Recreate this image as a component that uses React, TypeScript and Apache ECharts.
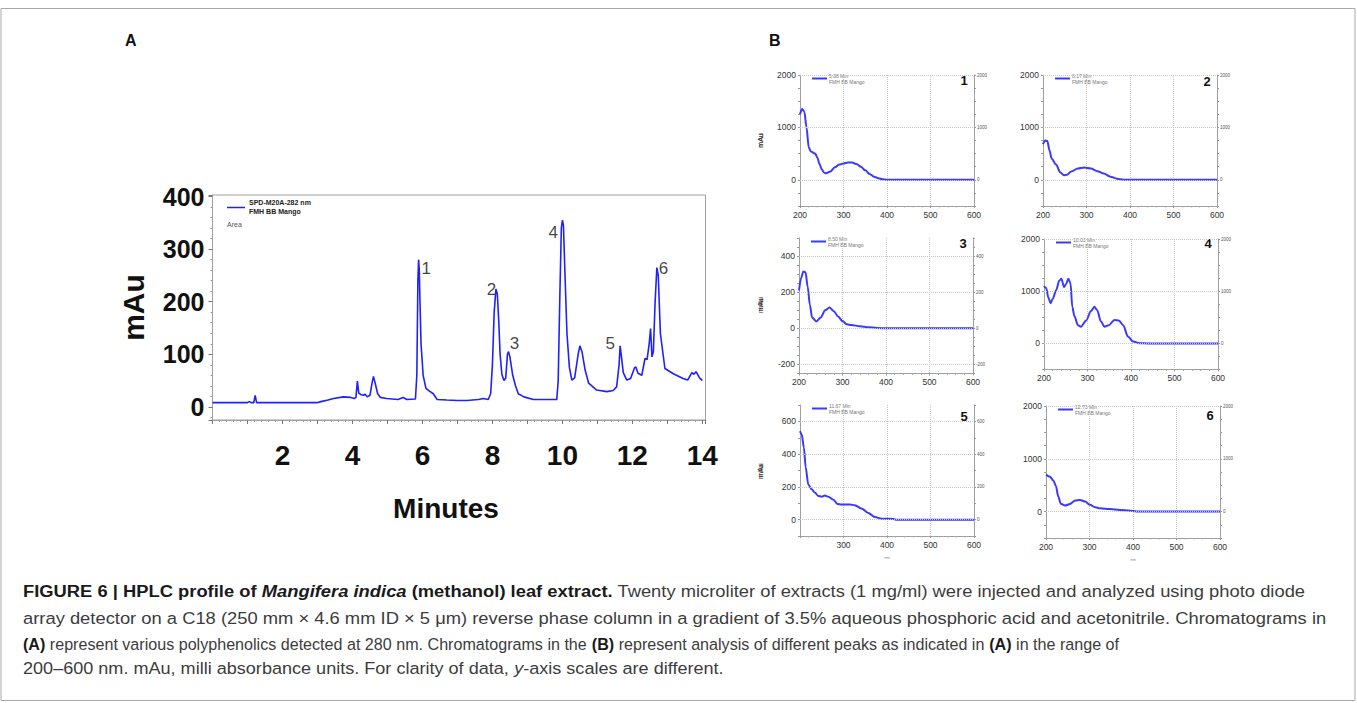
import React, { useEffect, useRef } from 'react';
import * as echarts from 'echarts';

// ---------- Panel A: HPLC chromatogram (280 nm) ----------
const chromTime = [0,1.00,1.05,1.10,1.18,1.22,1.26,1.50,2.00,2.98,
  3.10,3.30,3.46,3.74,3.95,4.05,4.10,4.14,4.18,4.25,
  4.31,4.36,4.42,4.50,4.56,4.60,4.65,4.72,4.80,4.98,
  5.30,5.45,5.55,5.80,5.84,5.87,5.89,5.91,5.93,5.96,
  6.02,6.10,6.20,6.31,6.42,6.70,7.00,7.27,7.60,7.74,
  7.88,7.95,8.00,8.05,8.10,8.14,8.18,8.22,8.27,8.33,
  8.38,8.43,8.46,8.50,8.58,8.66,8.74,8.90,9.17,9.50,
  9.84,9.88,9.93,9.97,10.00,10.03,10.07,10.13,10.20,10.27,
  10.35,10.45,10.50,10.56,10.65,10.75,10.98,11.27,11.45,11.55,
  11.62,11.65,11.68,11.74,11.84,11.95,12.06,12.10,12.16,12.27,
  12.36,12.42,12.48,12.52,12.56,12.60,12.65,12.70,12.74,12.80,
  12.93,13.17,13.45,13.58,13.70,13.76,13.82,13.92,14.00];
const chromMAu = [8,8,10,8,8,22,8,8,8,8,
  10,13,16,19,18,16,18,49,26,23,
  22,24,19,22,45,58,45,25,18,16,
  14,18,14,15,60,240,280,260,200,120,
  60,35,30,25,14,13,12,12,14,16,
  14,25,80,180,224,215,165,100,62,50,
  55,100,105,95,60,40,25,19,14,14,
  14,50,220,340,355,345,260,140,75,51,
  55,100,116,105,70,45,32,29,31,38,
  80,116,100,65,51,54,74,76,64,60,
  92,90,120,149,95,105,200,265,250,140,
  73,63,54,51,65,62,67,55,50];
const peakLabelTime = [6.11, 7.97, 8.63, 9.74, 11.37, 12.89];
const peakLabelMAu = [263, 223, 120, 331, 120, 263];
const peakLabelText = ['1', '2', '3', '4', '5', '6'];
const xTicksA = [2, 4, 6, 8, 10, 12, 14];
const yTicksA = [0, 100, 200, 300, 400];

// ---------- Panel B: UV spectra of peaks 1-6 ----------
const spec1Wl = [200,205,210,215,220,225,235,240,245,250,255,260,270,280,290,300,310,320,330,340,350,360,370,380,390,400,410,450,500,550,600];
const spec1Abs = [1250,1350,1300,1000,620,540,500,420,300,200,140,125,160,240,290,310,330,330,300,250,180,110,60,30,10,3,0,0,0,0,0];
const spec2Wl = [200,205,210,215,220,230,240,248,255,265,280,295,310,325,340,355,370,385,400,450,500,550,600];
const spec2Abs = [680,750,740,560,400,290,140,85,95,160,215,235,215,165,120,60,20,3,0,0,0,0,0];
const spec3Wl = [200,205,210,215,220,225,230,240,250,260,270,280,290,300,310,320,340,360,380,400,450,500,550,600];
const spec3Abs = [210,280,315,310,230,130,60,38,60,100,115,95,65,40,22,18,12,6,2,0,0,0,0,0];
const spec4Wl = [200,205,210,215,220,228,235,240,246,251,256,261,265,270,278,285,297,308,316,322,331,339,349,362,372,382,393,405,420,440,500,550,600];
const spec4Abs = [1100,1060,880,770,850,1020,1200,1240,1080,1140,1240,1150,700,520,350,320,440,620,700,640,420,320,350,450,440,350,130,35,3,0,0,0,0];
const spec5Wl = [200,204,209,213,219,227,234,242,250,257,265,277,286,296,315,326,342,357,372,388,415,420,450,500,550,600];
const spec5Abs = [540,520,440,320,215,185,165,145,140,148,140,122,96,92,92,88,67,41,16,6,4,0,0,0,0,0];
const spec6Wl = [200,209,217,223,228,234,244,255,267,278,290,301,313,324,347,370,393,408,420,450,500,550,600];
const spec6Abs = [700,660,590,480,290,150,115,145,210,222,190,128,83,62,50,32,18,3,0,0,0,0,0];

const specTimes = ['5.88 Min', '8.17 Min', '8.50 Min', '10.03 Min', '11.67 Min', '12.73 Min'];
const specNumbers = ['1', '2', '3', '4', '5', '6'];
const specYTicks = [[0, 1000, 2000], [0, 1000, 2000], [-200, 0, 200, 400], [0, 1000, 2000], [0, 200, 400, 600], [0, 1000, 2000]];
const specYRange = [[-500, 2000, 250], [-500, 2000, 250], [-250, 500, 50], [-500, 2000, 250], [-100, 700, 100], [-500, 2000, 250]];
const specXTicks = [[200,300,400,500,600],[200,300,400,500,600],[200,300,400,500,600],[200,300,400,500,600],[300,400,500,600],[200,300,400,500,600]];
const specSeries = [[spec1Wl, spec1Abs], [spec2Wl, spec2Abs], [spec3Wl, spec3Abs], [spec4Wl, spec4Abs], [spec5Wl, spec5Abs], [spec6Wl, spec6Abs]];

// ---------- Caption ----------
const captionLines = [
  '{b|FIGURE 6 | HPLC profile of }{bi|Mangifera indica}{b| (methanol) leaf extract.}{n| Twenty microliter of extracts (1 mg/ml) were injected and analyzed using photo diode}',
  '{n|array detector on a C18 (250 mm × 4.6 mm ID × 5 μm) reverse phase column in a gradient of 3.5% aqueous phosphoric acid and acetonitrile. Chromatograms in}',
  '{b|(A)}{n| represent various polyphenolics detected at 280 nm. Chromatograms in the }{b|(B)}{n| represent analysis of different peaks as indicated in }{b|(A)}{n| in the range of}',
  '{n|200–600 nm. mAu, milli absorbance units. For clarity of data, }{i|y}{n|-axis scales are different.}',
];

// layout (pixels)
const smallBoxes = [
  { left: 800, top: 75, width: 174, height: 131, numDy: 5 },
  { left: 1043, top: 75, width: 174, height: 131, numDy: 6 },
  { left: 799, top: 238, width: 174, height: 135.5, numDy: 5 },
  { left: 1044, top: 239, width: 174, height: 130.5, numDy: 4 },
  { left: 800, top: 405, width: 174, height: 131, numDy: 11 },
  { left: 1046, top: 406, width: 174, height: 132, numDy: 9 },
];
const captionY = [591, 618, 644, 668];
const captionScaleX = [1.08, 1.08, 0.948, 1.063];

const FONT = 'Liberation Sans, Arial, Helvetica, sans-serif';
const BLUE_A = '#2020ff';
const BLUE_B = '#3a3aff';

function buildOption() {
  const grids: any[] = [{ left: 212.5, top: 195, width: 493, height: 225, show: true, borderColor: '#a0a0a0', borderWidth: 1, backgroundColor: 'transparent' }];
  const xAxes: any[] = [{
    type: 'value', gridIndex: 0, min: 0, max: 14.09, interval: 1,
    axisLine: { show: true, onZero: false, lineStyle: { color: '#a0a0a0' } },
    axisTick: { show: true, length: 4, lineStyle: { color: '#777' } },
    minorTick: { show: true, splitNumber: 5, length: 2, lineStyle: { color: '#999' } },
    splitLine: { show: false },
    axisLabel: { formatter: (v: number) => (xTicksA.includes(v) ? String(v) : ''), fontSize: 28, fontWeight: 'bold', color: '#111', fontFamily: FONT, margin: 21 },
    name: 'Minutes', nameLocation: 'middle', nameGap: 74,
    nameTextStyle: { fontSize: 28, fontWeight: 'bold', color: '#111', fontFamily: FONT, padding: [0, 26, 0, 0] },
  }];
  const yAxes: any[] = [{
    type: 'value', gridIndex: 0, min: -25, max: 403, splitNumber: 5,
    axisLine: { show: true, onZero: false, lineStyle: { color: '#a0a0a0' } },
    axisTick: { show: true, length: 4, lineStyle: { color: '#777' } },
    minorTick: { show: true, splitNumber: 5, length: 2, lineStyle: { color: '#999' } },
    splitLine: { show: false },
    axisLabel: { formatter: (v: number) => (yTicksA.includes(v) ? String(v) : ''), fontSize: 25, fontWeight: 'bold', color: '#111', fontFamily: FONT, margin: 8 },
    name: 'mAu', nameLocation: 'middle', nameGap: 64, nameRotate: 90,
    nameTextStyle: { fontSize: 30, fontWeight: 'bold', color: '#111', fontFamily: FONT },
  }];
  const series: any[] = [
    {
      type: 'line', xAxisIndex: 0, yAxisIndex: 0, showSymbol: false, symbol: 'none',
      data: chromTime.map((t, i) => [t, chromMAu[i]]),
      lineStyle: { color: BLUE_A, width: 1.6 }, itemStyle: { color: BLUE_A }, silent: true,
    },
    {
      type: 'scatter', xAxisIndex: 0, yAxisIndex: 0, symbolSize: 0, silent: true,
      data: peakLabelTime.map((t, i) => [t, peakLabelMAu[i], peakLabelText[i]]),
      label: { show: true, position: 'inside', formatter: (p: any) => p.value[2], fontSize: 17, color: '#111', fontFamily: FONT },
    },
  ];

  const graphic: any[] = [
    { type: 'rect', silent: true, z: -10, shape: { x: 1, y: 8.5, width: 1354, height: 692 }, style: { fill: 'none', stroke: '#a8a8a8', lineWidth: 1 } },
    { type: 'text', x: 125, y: 40, style: { text: 'A', font: `bold 16px ${FONT}`, fill: '#111', verticalAlign: 'middle' } },
    { type: 'text', x: 769, y: 40, style: { text: 'B', font: `bold 16px ${FONT}`, fill: '#111', verticalAlign: 'middle' } },
    { type: 'line', shape: { x1: 227, y1: 207.5, x2: 245, y2: 207.5 }, style: { stroke: BLUE_A, lineWidth: 1.5 } },
    { type: 'text', x: 249, y: 202.5, style: { text: 'SPD-M20A-282 nm', font: `bold 7px ${FONT}`, fill: '#222', verticalAlign: 'middle' } },
    { type: 'text', x: 249, y: 211.5, style: { text: 'FMH BB Mango', font: `bold 7px ${FONT}`, fill: '#222', verticalAlign: 'middle' } },
    { type: 'text', x: 227, y: 224, style: { text: 'Area', font: `7px ${FONT}`, fill: '#555', verticalAlign: 'middle' } },
  ];

  smallBoxes.forEach((b, i) => {
    const gi = i + 1;
    const [ymin, ymax, ystep] = specYRange[i];
    const yt = specYTicks[i];
    const xt = specXTicks[i];
    const bottomRow = i >= 4;
    grids.push({ left: b.left, top: b.top, width: b.width, height: b.height });
    xAxes.push({
      type: 'value', gridIndex: gi, min: 200, max: 600, interval: 100,
      axisLine: { show: true, onZero: false, lineStyle: { color: '#a0a0a0' } },
      axisTick: { show: true, length: 2, lineStyle: { color: '#999' } },
      minorTick: { show: true, splitNumber: 5, length: 1.5, lineStyle: { color: '#aaa' } },
      splitLine: { show: true, lineStyle: { type: 'dotted', color: '#c8c8c8', width: 1 } },
      axisLabel: { formatter: (v: number) => (xt.includes(v) ? String(v) : ''), fontSize: 8.5, color: '#333', fontFamily: FONT, margin: 4 },
      name: bottomRow ? 'nm' : '', nameLocation: 'middle', nameGap: 19,
      nameTextStyle: { fontSize: 4, color: '#888', fontFamily: FONT },
    });
    const fmt = (v: number) => (yt.includes(v) ? String(v) : '');
    yAxes.push({
      type: 'value', gridIndex: gi, min: ymin, max: ymax, interval: ystep, position: 'left',
      axisLine: { show: true, onZero: false, lineStyle: { color: '#a0a0a0' } },
      axisTick: { show: true, length: 2, lineStyle: { color: '#999' } },
      splitLine: { show: false },
      axisLabel: { formatter: fmt, fontSize: 8.5, color: '#333', fontFamily: FONT, margin: 4 },
      name: 'mAu', nameLocation: 'middle', nameRotate: 90, nameGap: b.left - 764,
      nameTextStyle: { fontSize: 7, color: '#333', fontFamily: FONT },
    });
    yAxes.push({
      type: 'value', gridIndex: gi, min: ymin, max: ymax, interval: ystep, position: 'right',
      axisLine: { show: true, onZero: false, lineStyle: { color: '#a0a0a0' } },
      axisTick: { show: true, length: 2, lineStyle: { color: '#999' } },
      splitLine: { show: false },
      axisLabel: { formatter: fmt, fontSize: 4.5, color: '#555', fontFamily: FONT, margin: 3 },
    });
    const [wl, ab] = specSeries[i];
    series.push({
      type: 'line', xAxisIndex: gi, yAxisIndex: 1 + 2 * i, showSymbol: false, symbol: 'none',
      smooth: 0.3, smoothMonotone: 'x', silent: true,
      data: wl.map((w, k) => [w, ab[k]]),
      lineStyle: { color: BLUE_B, width: 2 }, itemStyle: { color: BLUE_B }, z: 3,
      markLine: {
        silent: true, symbol: 'none', label: { show: false }, animation: false,
        lineStyle: { type: 'dotted', color: '#c8c8c8', width: 1 },
        data: yt.map((v) => ({ yAxis: v })),
      },
    });
    graphic.push(
      { type: 'line', shape: { x1: b.left + 12, y1: b.top + 3.5, x2: b.left + 27, y2: b.top + 3.5 }, style: { stroke: BLUE_B, lineWidth: 2 } },
      { type: 'text', x: b.left + 29, y: b.top + 0.5, style: { text: specTimes[i], font: `5px ${FONT}`, fill: '#777', verticalAlign: 'middle' } },
      { type: 'text', x: b.left + 29, y: b.top + 6.5, style: { text: 'FMH BB Mango', font: `5px ${FONT}`, fill: '#777', verticalAlign: 'middle' } },
      { type: 'text', x: b.left + b.width - 10, y: b.top + b.numDy, style: { text: specNumbers[i], font: `bold 13px ${FONT}`, fill: '#111', align: 'center', verticalAlign: 'middle' } },
    );
  });

  const base = { fontSize: 17, fontFamily: FONT };
  const rich = {
    n: { ...base, fill: '#3c3c3c' },
    b: { ...base, fontWeight: 'bold', fill: '#1a1a1a' },
    bi: { ...base, fontWeight: 'bold', fontStyle: 'italic', fill: '#1a1a1a' },
    i: { ...base, fontStyle: 'italic', fill: '#3c3c3c' },
  };
  captionLines.forEach((t, k) => {
    graphic.push({
      type: 'text', x: 23, y: captionY[k], scaleX: captionScaleX[k], originX: 0, originY: 0,
      style: { text: t, rich, font: `17px ${FONT}`, fill: '#3c3c3c', verticalAlign: 'middle' },
    });
  });

  return {
    animation: false,
    backgroundColor: '#ffffff',
    textStyle: { fontFamily: FONT },
    grid: grids,
    xAxis: xAxes,
    yAxis: yAxes,
    series,
    graphic,
  };
}

export default function App() {
  const ref = useRef<HTMLDivElement>(null);
  useEffect(() => {
    const chart = echarts.init(ref.current!, null, { renderer: 'svg' });
    chart.setOption(buildOption() as any);
    return () => chart.dispose();
  }, []);
  return <div ref={ref} style={{ position: 'fixed', left: 0, top: 0, width: 1357, height: 703, background: '#fff' }} />;
}
